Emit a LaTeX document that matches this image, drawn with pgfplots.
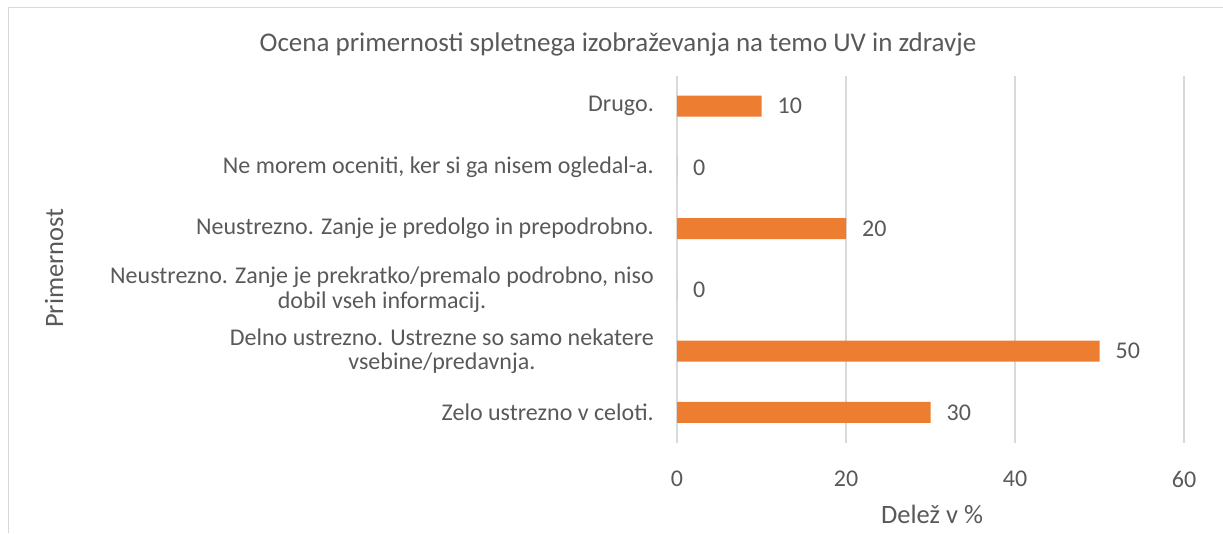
\documentclass[border=0pt]{standalone}
\usepackage{pgfplots}
\pgfplotsset{compat=1.18}
\usepackage{fontspec}
\setmainfont{Carlito}
\definecolor{txt}{HTML}{595959}
\definecolor{grd}{HTML}{D9D9D9}
\definecolor{barc}{HTML}{ED7D31}
\newcommand{\lbl}{\fontsize{24}{24.5}\selectfont}
\begin{document}
\begin{tikzpicture}[x=1pt,y=1pt]
\useasboundingbox (0,0) rectangle (1223,533);
\draw[grd, line width=1.5pt] (8.5,0) -- (8.5,525.5) -- (1223,525.5);
\begin{axis}[at={(677pt,90pt)}, anchor=south west, scale only axis,
  width=507pt, height=367.5pt,
  xbar, bar width=21pt,
  xmin=0, xmax=60, ymin=-0.5, ymax=5.5,
  xtick={0,20,40,60}, ytick={0,1,2,3,4,5},
  yticklabels={Zelo ustrezno v celoti.,
    {Delno ustrezno. Ustrezne so samo nekatere\\vsebine/predavnja.},
    {Neustrezno. Zanje je prekratko/premalo podrobno, niso\\dobil vseh informacij.},
    Neustrezno. Zanje je predolgo in prepodrobno.,
    {Ne morem oceniti, ker si ga nisem ogledal-a.},
    Drugo.},
  /pgf/number format/assume math mode=true,
  axis line style={draw=none},
  major tick length=0pt,
  xmajorgrids, grid style={grd, line width=1.2pt},
  xticklabel style={font=\lbl, text=txt, anchor=center, yshift=-36pt},
  yticklabel style={font=\lbl, text=txt, align=center, anchor=east, inner sep=0pt, xshift=-23pt},
  nodes near coords, every node near coord/.append style={font=\lbl, text=txt, anchor=west, inner sep=0pt, xshift=16pt},
  clip=false,
]
\addplot[fill=barc, draw=none] coordinates {(30,0) (50,1) (0,2) (20,3) (0,4) (10,5)};
\end{axis}
\node[text=txt, font=\fontsize{27}{30}\selectfont] at (618,489) {Ocena primernosti spletnega izobraževanja na temo UV in zdravje};
\node[text=txt, font=\fontsize{26.5}{30}\selectfont] at (932,19) {Delež v \%};
\node[text=txt, font=\fontsize{26.5}{30}\selectfont, rotate=90] at (54,265) {Primernost};
\end{tikzpicture}
\end{document}
